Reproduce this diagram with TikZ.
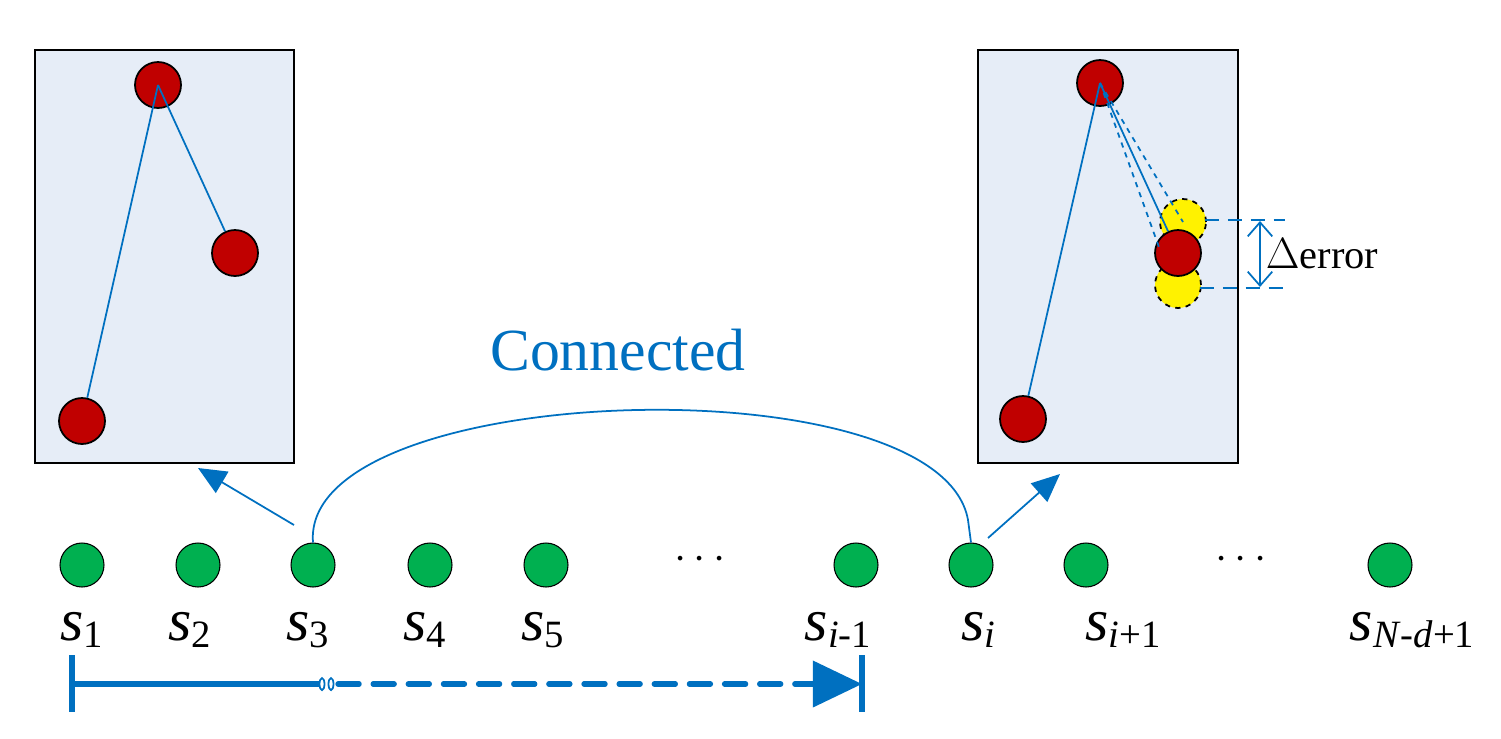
\documentclass[tikz,border=0pt]{standalone}
\usepackage{fontspec}
\setmainfont{Liberation Serif}
\usetikzlibrary{arrows.meta}
\definecolor{bl}{HTML}{0070C0}
\definecolor{rd}{HTML}{C00000}
\definecolor{gr}{HTML}{00B050}
\definecolor{bx}{HTML}{E6EDF7}
\begin{document}
\begin{tikzpicture}[x=0.02cm,y=-0.02cm,
  box/.style={draw=black,fill=bx,line width=1pt},
  red/.style={circle,draw=black,fill=rd,line width=1pt,inner sep=0pt,minimum size=0.92cm},
  yel/.style={circle,draw=black,dashed,fill=yellow,line width=1pt,inner sep=0pt,minimum size=0.92cm},
  grn/.style={circle,draw=black,fill=gr,line width=0.6pt,inner sep=0pt,minimum size=0.88cm},
  lnk/.style={bl,line width=1pt},
  lab/.style={font=\fontsize{34}{36}\selectfont}]
\useasboundingbox (0,0) rectangle (1501,738);
\draw[box] (35,50) rectangle (294,463);
\draw[box] (978,50) rectangle (1238,463);
% left box
\node[red] (a1) at (158,85) {};
\node[red] (a2) at (235,253) {};
\node[red] (a3) at (82,421) {};
\draw[lnk] (a1.center) -- (a3);
\draw[lnk] (a1.center) -- (a2);
% right box
\node[yel] (y1) at (1183,222) {};
\node[yel] (y2) at (1178,285) {};
\node[red] (b1) at (1100,83) {};
\node[red] (b2) at (1178,253) {};
\node[red] (b3) at (1023,419) {};
\draw[lnk] (b1.center) -- (b3);
\draw[lnk] (b1.center) -- (b2);
\draw[lnk,dashed] (b1.center) -- (y1.center);
\draw[lnk,dashed] (b1.center) -- (1160,250);
\coordinate (e1) at (1205,220); \coordinate (e2) at (1285,220);
\coordinate (e3) at (1200,288); \coordinate (e4) at (1285,288);
\draw[lnk,dash pattern=on 8pt off 5pt] (e1) -- (e2);
\draw[lnk,dash pattern=on 8pt off 5pt] (e3) -- (e4);
\coordinate (d1) at (1260,221); \coordinate (d2) at (1260,287);
\draw[lnk,{Straight Barb[length=8pt,width=14pt]}-{Straight Barb[length=8pt,width=14pt]}] (d1) -- (d2);
\node[font=\fontsize{23}{25}\selectfont] (err) at (1322,254) {$\Delta$error};
% green nodes
\foreach \n/\x in {1/82,2/198,3/313,4/430,5/546,im/856,i/971,ip/1086,N/1390}
  \node[grn] (g\n) at (\x,565) {};
\node[font=\fontsize{24}{24}\selectfont] (dots1) at (700,560) {$\cdots$};
\node[font=\fontsize{24}{24}\selectfont] (dots2) at (1241,560) {$\cdots$};
\newcommand{\slab}[1]{\textit{s}{\fontsize{22}{22}\selectfont\raisebox{-4pt}{#1}}}
\node[lab,anchor=base] (l1) at (82,640) {\slab{1}};
\node[lab,anchor=base] (l2) at (190,640) {\slab{2}};
\node[lab,anchor=base] (l3) at (308,640) {\slab{3}};
\node[lab,anchor=base] (l4) at (425,640) {\slab{4}};
\node[lab,anchor=base] (l5) at (543,640) {\slab{5}};
\node[lab,anchor=base] (lim) at (838,640) {\slab{\textit{i}-1}};
\node[lab,anchor=base] (li) at (978,640) {\slab{\textit{i}}};
\node[lab,anchor=base] (lip) at (1123,640) {\slab{\textit{i}+1}};
\node[lab,anchor=base] (lN) at (1412,640) {\slab{\textit{N}-\textit{d}+1}};
% arrows to boxes
\coordinate (p1) at (294,525); \coordinate (q1) at (198,468);
\coordinate (p2) at (988,538); \coordinate (q2) at (1060,474);
\draw[lnk,-{Triangle[length=16pt,width=14pt]}] (p1) -- (q1);
\draw[lnk,-{Triangle[length=16pt,width=14pt]}] (p2) -- (q2);
% connected curve
\draw[lnk] (g3.north) .. controls (300,380) and (940,360) .. (968,520) -- (gi.north);
\node[bl,font=\fontsize{34}{36}\selectfont] (con) at (618,350) {Connected};
% bottom timeline
\coordinate (t0) at (72,684); \coordinate (t1) at (322,684);
\coordinate (t2) at (338,684); \coordinate (t3) at (862,684);
\draw[bl,line width=3pt] (72,655) -- (72,712);
\draw[bl,line width=3pt] (862,655) -- (862,712);
\draw[bl,line width=3pt] (t0) -- (t1);
\draw[bl,line width=1pt,fill=white] (322,684) ellipse (2.5 and 6);
\draw[bl,line width=1pt,fill=white] (331,684) ellipse (2.5 and 6);
\draw[bl,line width=3pt,line cap=round,dash pattern=on 12pt off 8pt,-{Triangle[length=28pt,width=26pt]}] (t2) -- (t3);
\end{tikzpicture}
\end{document}
